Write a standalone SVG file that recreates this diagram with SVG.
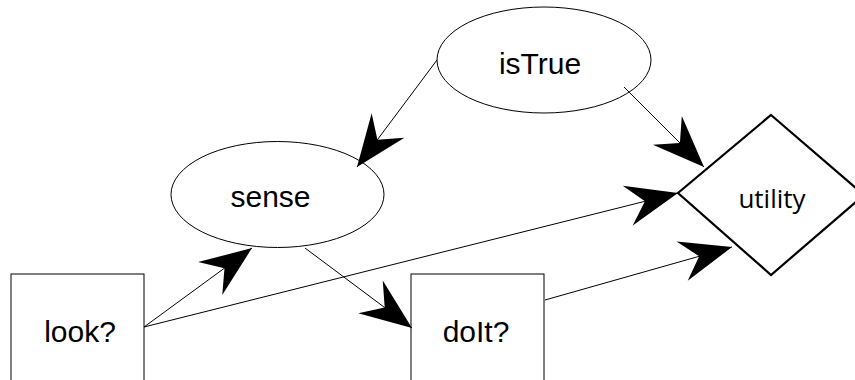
<svg xmlns="http://www.w3.org/2000/svg" width="855" height="380" viewBox="0 0 855 380">
<style>
.node{fill:#fff;stroke:#000;stroke-width:1}
.dia{fill:#fff;stroke:#000;stroke-width:2.2}
.lbl{font-family:"Liberation Sans",Arial,sans-serif;font-size:30px;fill:#000;text-anchor:middle}
.lbl2{font-family:"Open Sans","Noto Sans",sans-serif;font-size:26px;fill:#000;text-anchor:middle}
.edge{fill:none;stroke:#000;stroke-width:1;marker-end:url(#ah)}
</style>
<defs>
<marker id="ah" markerUnits="userSpaceOnUse" markerWidth="60" markerHeight="60" viewBox="-40 -20 44 40" refX="0" refY="0" orient="auto">
<path d="M0,0 L-38,-15 L-25,0 L-38,15 Z" fill="#000"/>
</marker>
</defs>
<g id="isTrue"><ellipse class="node" cx="544" cy="60" rx="107" ry="53"/><text class="lbl" x="540" y="74">isTrue</text></g>
<g id="sense"><ellipse class="node" cx="277.5" cy="194.5" rx="106.5" ry="53"/><text class="lbl" x="270.5" y="207">sense</text></g>
<g id="look"><rect class="node" x="11" y="274" width="133" height="120"/><text class="lbl" x="80" y="342">look?</text></g>
<g id="doIt"><rect class="node" x="411" y="274" width="133" height="120"/><text class="lbl" x="476" y="342">doIt?</text></g>
<g id="utility"><polygon class="dia" points="771,115 864,195 771,275 678,193"/><text class="lbl2" x="772" y="208">utility</text></g>
<g id="connectors">
<line class="edge" x1="437" y1="60" x2="357" y2="167"/>
<line class="edge" x1="624" y1="87" x2="704" y2="167"/>
<line class="edge" x1="144" y1="327" x2="252" y2="248"/>
<line class="edge" x1="144" y1="327" x2="678" y2="193"/>
<line class="edge" x1="305" y1="248" x2="412" y2="328"/>
<line class="edge" x1="545" y1="300" x2="732" y2="247"/>
</g>
</svg>
